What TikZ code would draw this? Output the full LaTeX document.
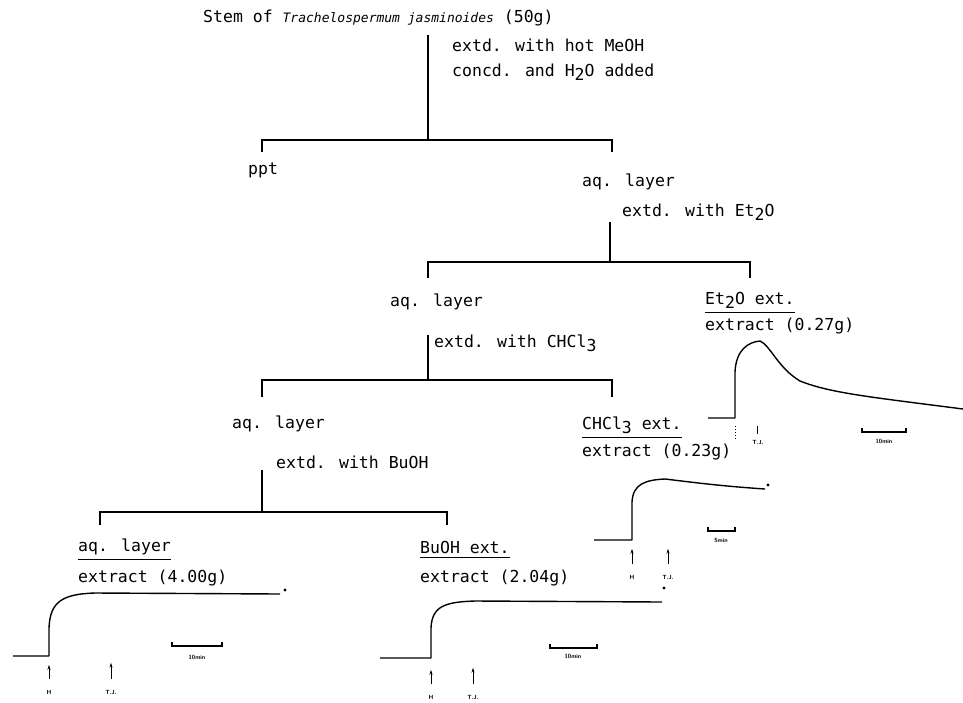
\documentclass[tikz,border=0pt]{standalone}
\usepackage{fontspec}
\setmonofont{DejaVu Sans Mono}
\newfontfamily\spfont{DejaVu Sans Mono}
\usepackage{tikz}
\usetikzlibrary{arrows.meta,positioning}
\newcommand{\lowr}[1]{\raisebox{-0.45ex}{#1}}
\tikzset{
  lbl/.style={anchor=west, inner sep=0pt, font=\ttfamily\fontsize{16.5}{18}\selectfont},
  toplbl/.style={lbl, inner ysep=4pt},
  bar/.style={line width=1.6pt},
  rule/.style={line width=1.2pt},
  trace/.style={line width=1.4pt, line join=round},
  upar/.style={-{Stealth[length=5pt,width=3pt]}, line width=1pt},
  tiny/.style={inner sep=0pt, font=\sffamily\bfseries\fontsize{6}{7}\selectfont},
  scalebar/.style={line width=1.1pt},
}

\begin{document}
\begin{tikzpicture}[x=1pt, y=-1pt]
  \useasboundingbox (0,0) rectangle (963,702);

  % --- extraction scheme
  \node[lbl] (stem) at (203,18) {Stem of {\spfont\itshape\fontsize{13}{15}\selectfont Trachelospermum jasminoides} (50g)};
  \node[lbl] (meoh) at (452,45) {extd. with hot MeOH};
  \node[lbl] (concd) at (452,72) {concd. and H\lowr{2}O added};
  \coordinate (s1) at (428,35);
  \coordinate (b1) at (428,140);
  \coordinate (b1l) at (262,140);
  \coordinate (b1r) at (612,140);
  \draw[bar] (s1) -- (b1);
  \draw[bar] (b1l) ++(0,12) -- (b1l) -- (b1r) -- ++(0,12);

  \node[lbl] (ppt) at (248,170) {ppt};
  \node[lbl] (aqA) at (582,182) {aq. layer};
  \node[lbl] (etw) at (622,212) {extd. with Et\lowr{2}O};
  \coordinate (s2) at (610,222);
  \coordinate (b2) at (610,262);
  \coordinate (b2l) at (428,262);
  \coordinate (b2r) at (750,262);
  \draw[bar] (s2) -- (b2);
  \draw[bar] (b2l) ++(0,16) -- (b2l) -- (b2r) -- ++(0,16);

  \node[lbl] (aqB) at (390,302) {aq. layer};
  \node[toplbl] (etx) at (705,300) {Et\lowr{2}O ext.};
  \node[lbl] (etex) at (705,326) {extract (0.27g)};
  \draw[rule] (etx.south west) -- (etx.south east);

  \node[lbl] (chw) at (434,343) {extd. with CHCl\lowr{3}};
  \coordinate (s3) at (428,335);
  \coordinate (b3) at (428,380);
  \coordinate (b3l) at (262,380);
  \coordinate (b3r) at (612,380);
  \draw[bar] (s3) -- (b3);
  \draw[bar] (b3l) ++(0,17) -- (b3l) -- (b3r) -- ++(0,17);

  \node[lbl] (aqC) at (232,424) {aq. layer};
  \node[toplbl] (chx) at (582,425) {CHCl\lowr{3} ext.};
  \node[lbl] (chex) at (582,452) {extract (0.23g)};
  \draw[rule] (chx.south west) -- (chx.south east);

  \node[lbl] (buw) at (276,462) {extd. with BuOH};
  \coordinate (s4) at (262,470);
  \coordinate (b4) at (262,512);
  \coordinate (b4l) at (100,512);
  \coordinate (b4r) at (447,512);
  \draw[bar] (s4) -- (b4);
  \draw[bar] (b4l) ++(0,13) -- (b4l) -- (b4r) -- ++(0,13);

  \node[toplbl] (aqD) at (78,547) {aq. layer};
  \node[lbl] (aqex) at (78,578) {extract (4.00g)};
  \draw[rule] (aqD.south west) -- (aqD.south east);
  \node[toplbl] (bux) at (420,547) {BuOH ext.};
  \node[lbl] (buex) at (420,578) {extract (2.04g)};
  \draw[rule] (bux.south west) -- (bux.south east);

  % --- Et2O extract trace
  \draw[trace] (708,418) -- (735,418) -- (735,372)
    .. controls (736,350) and (748,342) .. (760,341)
    .. controls (770,345) and (778,368) .. (800,381)
    .. controls (830,393) and (870,397) .. (963,409);
  \draw[line width=1pt, dotted] (735,426) -- (735,440);
  \draw[line width=1pt] (757,426) -- (757,434);
  \node[tiny] (tjE) at (758,442) {T.J.};
  \node[tiny] (minE) at (884,441) {10min};
  \draw[scalebar] (862,428) -- (862,432) -- (906,432) -- (906,428);

  % --- CHCl3 extract trace
  \draw[trace] (594,540) -- (632,540) -- (632,502)
    .. controls (633,484) and (645,480) .. (665,479)
    .. controls (690,482) and (720,486) .. (765,489);
  \fill (768,485) circle (1.6);
  \node[tiny] (hC) at (632,577) {H};
  \node[tiny] (tjC) at (668,577) {T.J.};
  \draw[upar] ([yshift=11pt]hC.north) -- ++(0,-15);
  \draw[upar] ([yshift=11pt]tjC.north) -- ++(0,-15);
  \draw[scalebar] (708,527) -- (708,531) -- (735,531) -- (735,527);
  \node[tiny] (minC) at (721,540) {5min};

  % --- aq. layer extract trace
  \draw[trace] (13,656) -- (49,656) -- (49,628)
    .. controls (50,602) and (62,594) .. (95,593) -- (280,594);
  \fill (285,590) circle (1.6);
  \node[tiny] (hD) at (49,692) {H};
  \node[tiny] (tjD) at (111,692) {T.J.};
  \draw[upar] ([yshift=11pt]hD.north) -- ++(0,-14);
  \draw[upar] ([yshift=11pt]tjD.north) -- ++(0,-16);
  \draw[scalebar] (172,642) -- (172,646) -- (222,646) -- (222,642);
  \node[tiny] (minD) at (197,657) {10min};

  % --- BuOH extract trace
  \draw[trace] (380,658) -- (431,658) -- (431,628)
    .. controls (432,606) and (445,602) .. (475,601) -- (662,602);
  \fill (664,588) circle (1.6);
  \node[tiny] (hB) at (431,697) {H};
  \node[tiny] (tjB) at (473,697) {T.J.};
  \draw[upar] ([yshift=11pt]hB.north) -- ++(0,-14);
  \draw[upar] ([yshift=11pt]tjB.north) -- ++(0,-16);
  \draw[scalebar] (550,644) -- (550,648) -- (597,648) -- (597,644);
  \node[tiny] (minB) at (573,656) {10min};
\end{tikzpicture}
\end{document}
